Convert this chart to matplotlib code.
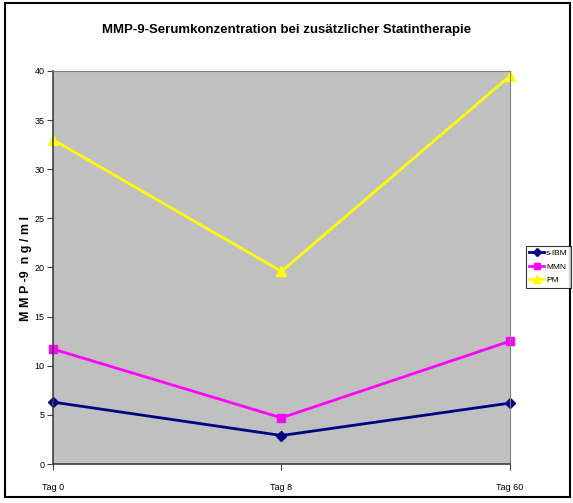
import matplotlib.pyplot as plt
from matplotlib.patches import Rectangle

plt.rcParams['font.family'] = ['Liberation Sans Narrow', 'Liberation Sans', 'DejaVu Sans']

# MMP-9 serum levels per group
days = ["Tag 0", "Tag 8", "Tag 60"]
s_ibm = [6.3, 2.9, 6.2]
mmn = [11.7, 4.7, 12.5]
pm = [33.0, 19.6, 39.5]

fig = plt.figure(figsize=(5.73, 5.03), dpi=100)
fig.patches.append(Rectangle((0.009, 0.012), 0.985, 0.982, transform=fig.transFigure,
                             fill=False, edgecolor="black", linewidth=1.5))
ax = fig.add_axes([0.0925, 0.0775, 0.7975, 0.7815])
ax.set_facecolor("#c0c0c0")

x = range(len(days))
ax.plot(x, s_ibm, color="#000080", marker="D", markersize=5, linewidth=2, label="s-IBM", clip_on=False)
ax.plot(x, mmn, color="#ff00ff", marker="s", markersize=6, linewidth=2, label="MMN", clip_on=False)
ax.plot(x, pm, color="#ffff00", marker="^", markersize=7, linewidth=2, label="PM", clip_on=False)

ax.set_xlim(0, 2)
ax.set_ylim(0, 40)
ax.set_xticks(list(x))
ax.set_xticklabels(days, fontsize=6.5)
ax.set_yticks(range(0, 41, 5))
ax.tick_params(axis="y", labelsize=6.5, length=4, pad=2, color="#404040")
ax.tick_params(axis="x", length=4, pad=10, color="#404040")
for s in ["top", "right"]:
    ax.spines[s].set_color("#808080")
for s in ["left", "bottom"]:
    ax.spines[s].set_color("#404040")
    ax.spines[s].set_linewidth(1.2)

fig.text(0.045, 0.467, "M M P -9  n g / m l", rotation=90, ha="center", va="center",
         fontsize=9, fontweight="bold")
fig.text(0.5, 0.94, "MMP-9-Serumkonzentration bei zusätzlicher Statintherapie",
         ha="center", va="center", fontsize=9.5, fontweight="bold")

leg = fig.legend(loc="center left", bbox_to_anchor=(0.918, 0.47), fontsize=6,
                 frameon=True, fancybox=False, edgecolor="black", handlelength=1.8,
                 borderpad=0.4, labelspacing=0.7, handletextpad=0.2, borderaxespad=0,
                 markerscale=0.8)
leg.get_frame().set_linewidth(0.8)

fig.savefig("out.png", dpi=100)
